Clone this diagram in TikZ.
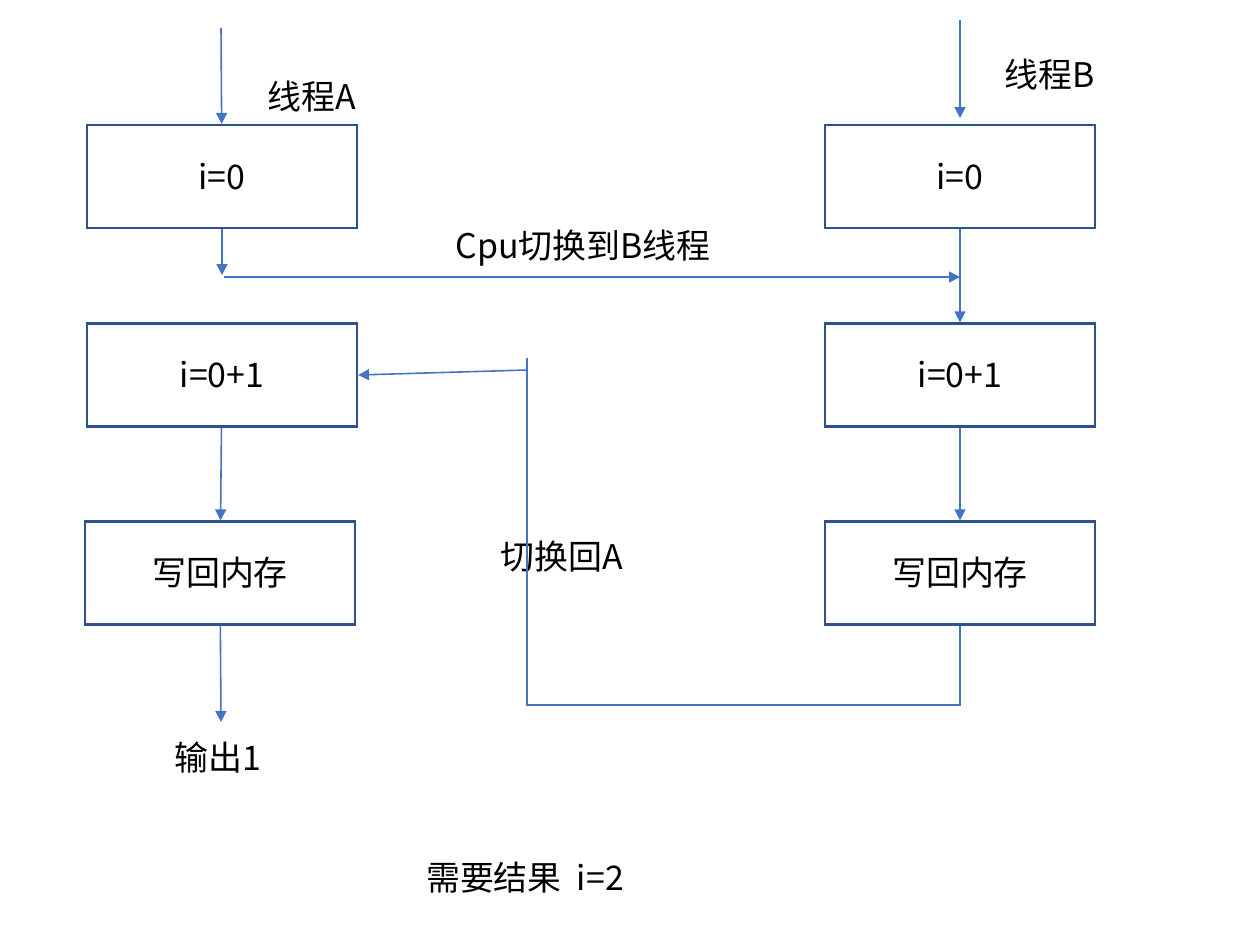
\documentclass[tikz,border=0pt]{standalone}
\usepackage{fontspec}
\setmainfont{Noto Sans CJK SC}
\usetikzlibrary{arrows.meta}
\definecolor{boxblue}{HTML}{2F528F}
\definecolor{lineblue}{HTML}{4472C4}

\begin{document}
\begin{tikzpicture}[x=0.02cm, y=-0.02cm,
  every node/.style={font=\fontsize{19.3}{23}\selectfont},
  box/.style={draw=boxblue, line width=1.3pt, minimum width=5.4cm, minimum height=2.06cm, inner sep=0pt},
  link/.style={draw=lineblue, line width=0.9pt},
  flow/.style={link, -{Triangle[length=0.22cm, width=0.22cm]}}]
\useasboundingbox (0,0) rectangle (1234,936);

% thread A
\node[box] (a1) at (222,176.5) {i=0};
\node[box] (a2) at (222,375) {i=0+1};
\node[box] (a3) at (220,573) {写回内存};
\node (labA) at (312,97) {线程A};
\node (outA) at (218,758) {输出1};

% thread B
\node[box] (b1) at (960,176.5) {i=0};
\node[box] (b2) at (960,375) {i=0+1};
\node[box] (b3) at (960,573) {写回内存};
\node (labB) at (1050,75) {线程B};

\node (cpu) at (583,248) {Cpu切换到B线程};
\node (back) at (562,557) {切换回A};
\node (result) at (525,878) {需要结果\ \ i=2};

\coordinate (inA) at (221,28);
\coordinate (inB) at (960,20);
\coordinate (inBend) at (960,118);
\coordinate (downA) at (222,275);
\coordinate (hStart) at (224,277);
\coordinate (retLow) at (527,705);
\coordinate (retTop) at (527,358);
\coordinate (retMid) at (527,370);
\coordinate (endA) at (221,722);

\draw[flow] (inA) -- (a1);
\draw[flow] (inB) -- (inBend);
\draw[flow] (a1) -- (downA);
\draw[flow] (hStart) -- (hStart -| b1);
\draw[flow] (b1) -- (b2);
\draw[flow] (b2) -- (b3);
\draw[link] (b3) |- (retLow) -- (retTop);
\draw[flow] (retMid) -- (a2.east);
\draw[flow] (a2) -- (a3);
\draw[flow] (a3) -- (endA);
\end{tikzpicture}
\end{document}
